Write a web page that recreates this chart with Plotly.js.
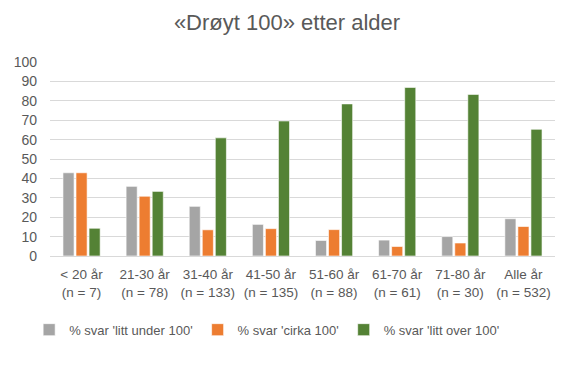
<!DOCTYPE html>
<html><head><meta charset="utf-8">
<script src="https://cdn.plot.ly/plotly-3.0.1.min.js"></script>
<style>body{margin:0;background:#fff}#c{width:574px;height:376px}</style>
</head><body><div id="c"></div>
<script>
const categories = ["< 20 år<br>(n = 7)", "21-30 år<br>(n = 78)", "31-40 år<br>(n = 133)", "41-50 år<br>(n = 135)", "51-60 år<br>(n = 88)", "61-70 år<br>(n = 61)", "71-80 år<br>(n = 30)", "Alle år<br>(n = 532)"];
const seriesNames = ["% svar 'litt under 100'", "% svar 'cirka 100'", "% svar 'litt over 100'"];
const underValues = [42.9, 35.9, 25.6, 16.3, 8.0, 8.2, 10.0, 19.2];
const cirkaValues = [42.9, 30.8, 13.5, 14.1, 13.6, 4.9, 6.7, 15.2];
const overValues = [14.3, 33.3, 60.9, 69.6, 78.4, 86.9, 83.3, 65.3];
const colors = ["#A5A5A5", "#ED7D31", "#548235"];

const fam = "Liberation Sans, Arial, sans-serif";
const font = {family: fam, color: "#595959", size: 13};
const traces = [underValues, cirkaValues, overValues].map((v, i) => ({
  type: "bar", x: categories, y: v, name: seriesNames[i],
  marker: {color: colors[i], line: {color: "rgba(255,255,255,0.6)", width: 1}},
  hoverinfo: "skip"
}));
const layout = {
  width: 574, height: 376,
  margin: {l: 50, r: 19, t: 62, b: 120},
  paper_bgcolor: "#fff", plot_bgcolor: "#fff",
  title: {text: "«Drøyt 100» etter alder", x: 0.5, xanchor: "center", y: 0.94, yanchor: "middle",
          font: {family: fam, size: 22, color: "#595959"}},
  font: font,
  barmode: "group", bargap: 0.38, bargroupgap: 0.15,
  xaxis: {showgrid: false, showline: true, linecolor: "#D9D9D9", linewidth: 1, ticks: "",
          tickfont: {family: fam, color: "#595959", size: 13.5}, tickangle: 0, automargin: false,
          ticklabelstandoff: 6},
  yaxis: {range: [0, 100], dtick: 10, showgrid: true, gridcolor: "#D9D9D9", gridwidth: 1,
          zeroline: false, showline: false, ticks: "", tickfont: {family: fam, color: "#595959", size: 14},
          automargin: false, ticklabelstandoff: 12},
  legend: {orientation: "h", x: 0.43, xanchor: "center", y: -0.38, yanchor: "middle",
           font: font, traceorder: "normal"},
  showlegend: true
};
Plotly.newPlot("c", traces, layout, {staticPlot: true, displayModeBar: false});
</script></body></html>
